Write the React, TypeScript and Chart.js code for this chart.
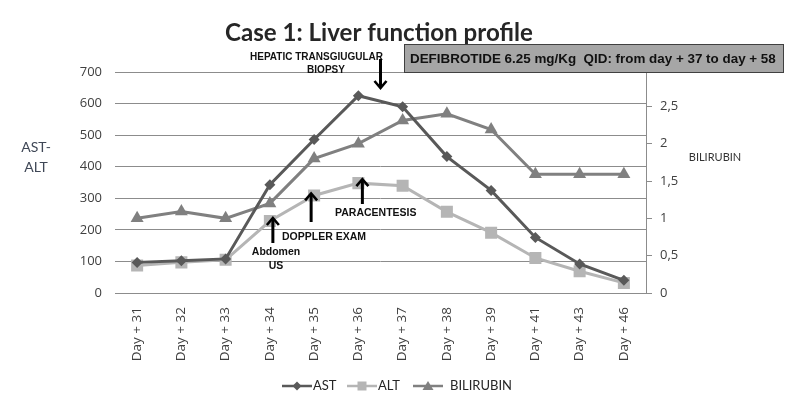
import React, { useEffect, useRef } from 'react';
import { Chart, registerables } from 'chart.js';

Chart.register(...registerables);

const categories = ['Day + 31', 'Day + 32', 'Day + 33', 'Day + 34', 'Day + 35', 'Day + 36', 'Day + 37', 'Day + 38', 'Day + 39', 'Day + 41', 'Day + 43', 'Day + 46'];
const astValues = [97, 102, 108, 343, 486, 625, 590, 432, 325, 176, 92, 40];
const altValues = [87, 97, 105, 228, 309, 348, 340, 257, 191, 111, 69, 32];
const bilirubinValues = [1.0, 1.09, 1.0, 1.2, 1.8, 2.0, 2.31, 2.4, 2.19, 1.59, 1.59, 1.59];
const leftAxisMax = 700;
const leftAxisStep = 100;
const rightAxisMax = 2.96;
const rightAxisStep = 0.5;
const seriesNames = ['AST', 'ALT', 'BILIRUBIN'];
const titleText = 'Case 1: Liver function profile';
const boxText = 'DEFIBROTIDE 6.25 mg/Kg  QID: from day + 37 to day + 58';

const AST_COLOR = '#595959';
const ALT_COLOR = '#b5b5b5';
const BILI_COLOR = '#808080';
const GRID = '#8c8c8c';
const TICK_COLOR = '#404040';

function fitFont(ctx: CanvasRenderingContext2D, text: string, weight: string, family: string, target: number) {
  ctx.font = `${weight} 20px ${family}`;
  const w = ctx.measureText(text).width;
  const size = 20 * target / w;
  ctx.font = `${weight} ${size}px ${family}`;
}

function drawArrow(ctx: CanvasRenderingContext2D, x: number, yTail: number, yTip: number) {
  const dir = yTip > yTail ? 1 : -1;
  ctx.save();
  ctx.strokeStyle = '#000';
  ctx.lineWidth = 3;
  ctx.lineCap = 'butt';
  ctx.beginPath();
  ctx.moveTo(x, yTail);
  ctx.lineTo(x, yTip - dir * 1);
  ctx.stroke();
  ctx.lineWidth = 2.6;
  ctx.lineJoin = 'miter';
  ctx.beginPath();
  ctx.moveTo(x - 6, yTip - dir * 7);
  ctx.lineTo(x, yTip);
  ctx.lineTo(x + 6, yTip - dir * 7);
  ctx.stroke();
  ctx.restore();
}

function drawMarker(ctx: CanvasRenderingContext2D, style: string, x: number, y: number, color: string) {
  ctx.save();
  ctx.fillStyle = color;
  ctx.beginPath();
  if (style === 'diamond') {
    ctx.moveTo(x, y - 4.5); ctx.lineTo(x + 4.5, y); ctx.lineTo(x, y + 4.5); ctx.lineTo(x - 4.5, y);
  } else if (style === 'square') {
    ctx.rect(x - 4.5, y - 4.5, 9, 9);
  } else {
    ctx.moveTo(x, y - 5); ctx.lineTo(x + 5.5, y + 4); ctx.lineTo(x - 5.5, y + 4);
  }
  ctx.closePath();
  ctx.fill();
  ctx.restore();
}

const annotationPlugin = {
  id: 'annotations',
  beforeDraw(chart: any) {
    const ctx = chart.ctx as CanvasRenderingContext2D;
    ctx.save();
    ctx.fillStyle = '#ffffff';
    ctx.fillRect(0, 0, chart.width, chart.height);
    ctx.restore();
  },
  afterDraw(chart: any) {
    const ctx = chart.ctx as CanvasRenderingContext2D;
    const xs = chart.scales.x;
    const ys = chart.scales.y;
    ctx.save();

    // Title
    fitFont(ctx, titleText, 'bold', 'Lato', 308);
    ctx.fillStyle = '#262626';
    ctx.textAlign = 'left';
    ctx.textBaseline = 'alphabetic';
    ctx.fillText(titleText, 225, 41);

    // Defibrotide box
    ctx.fillStyle = '#a6a6a6';
    ctx.fillRect(404, 44, 380, 29);
    ctx.strokeStyle = '#404040';
    ctx.lineWidth = 1;
    ctx.strokeRect(404.5, 44.5, 379, 28);
    ctx.fillStyle = '#111111';
    fitFont(ctx, boxText, 'bold', '"Liberation Sans"', 366);
    ctx.textBaseline = 'middle';
    ctx.fillText(boxText, 410, 59);

    // Hepatic biopsy
    ctx.font = 'bold 10px "Liberation Sans"';
    ctx.fillStyle = '#111111';
    ctx.textAlign = 'left';
    ctx.fillText('HEPATIC TRANSGIUGULAR', 250, 57);
    ctx.textAlign = 'center';
    ctx.fillText('BIOPSY', 326, 70);
    const xBiopsy = (xs.getPixelForValue(5) + xs.getPixelForValue(6)) / 2;
    drawArrow(ctx, xBiopsy, 59, 88);

    // Paracentesis
    const xPara = xs.getPixelForValue(5) + 4;
    drawArrow(ctx, xPara, 204, ys.getPixelForValue(altValues[5]) - 4);
    ctx.font = 'bold 10.5px "Liberation Sans"';
    ctx.textAlign = 'left';
    ctx.fillText('PARACENTESIS', 335, 213);

    // Doppler
    const xDop = xs.getPixelForValue(4) - 3;
    drawArrow(ctx, xDop, 222, ys.getPixelForValue(altValues[4]) - 2);
    ctx.fillText('DOPPLER EXAM', 282, 237);

    // Abdomen US
    const xUs = xs.getPixelForValue(3) + 3;
    drawArrow(ctx, xUs, 243, ys.getPixelForValue(altValues[3]) - 3);
    ctx.textAlign = 'center';
    ctx.fillText('Abdomen', 276, 252);
    ctx.fillText('US', 276, 266);

    // Axis titles
    ctx.font = '14px Lato';
    ctx.fillStyle = '#3f4756';
    ctx.textAlign = 'center';
    ctx.fillText('AST-', 36, 147);
    ctx.fillText('ALT', 36, 167);
    ctx.font = '11px Lato';
    ctx.fillStyle = '#333333';
    ctx.fillText('BILIRUBIN', 715, 157);

    // Legend
    const items = [
      { name: seriesNames[0], color: AST_COLOR, style: 'diamond', x0: 282 },
      { name: seriesNames[1], color: ALT_COLOR, style: 'square', x0: 347 },
      { name: seriesNames[2], color: BILI_COLOR, style: 'triangle', x0: 413 },
    ];
    const ly = 386;
    ctx.font = '13px Lato';
    ctx.textAlign = 'left';
    items.forEach((it, i) => {
      ctx.strokeStyle = it.color;
      ctx.lineWidth = 2.5;
      ctx.beginPath();
      ctx.moveTo(it.x0, ly);
      ctx.lineTo(it.x0 + 30, ly);
      ctx.stroke();
      drawMarker(ctx, it.style, it.x0 + 15, ly, it.color);
      ctx.fillStyle = '#262626';
      ctx.fillText(it.name, it.x0 + (i === 2 ? 37 : 31), ly);
    });

    ctx.restore();
  },
};

export default function App() {
  const canvasRef = useRef<HTMLCanvasElement | null>(null);

  useEffect(() => {
    const canvas = canvasRef.current;
    if (!canvas) return;
    const chart = new Chart(canvas, {
      type: 'line',
      data: {
        labels: categories,
        datasets: [
          {
            label: seriesNames[0],
            data: astValues,
            yAxisID: 'y',
            borderColor: AST_COLOR,
            backgroundColor: AST_COLOR,
            borderWidth: 3,
            pointStyle: 'rectRot',
            pointRadius: 5.5,
            pointBorderWidth: 0,
            tension: 0,
            order: 1,
          },
          {
            label: seriesNames[1],
            data: altValues,
            yAxisID: 'y',
            borderColor: ALT_COLOR,
            backgroundColor: ALT_COLOR,
            borderWidth: 3,
            pointStyle: 'rect',
            pointRadius: 8.5,
            pointBorderWidth: 0,
            tension: 0,
            order: 2,
          },
          {
            label: seriesNames[2],
            data: bilirubinValues,
            yAxisID: 'y1',
            borderColor: BILI_COLOR,
            backgroundColor: BILI_COLOR,
            borderWidth: 3,
            pointStyle: 'triangle',
            pointRadius: 7.5,
            pointBorderWidth: 0,
            tension: 0,
            order: 3,
          },
        ],
      },
      options: {
        responsive: false,
        animation: false,
        layout: { padding: { top: 72, left: 0, right: 0, bottom: 0 } },
        plugins: {
          legend: { display: false },
          title: { display: false },
          tooltip: { enabled: false },
        },
        scales: {
          x: {
            type: 'category',
            offset: true,
            grid: { display: false, offset: true },
            border: { display: true, color: GRID, width: 1 },
            ticks: {
              minRotation: 90,
              maxRotation: 90,
              padding: 6,
              color: TICK_COLOR,
              font: { family: 'Open Sans', size: 13.5 },
            },
            afterFit: (s: any) => { s.height = 115; },
          },
          y: {
            position: 'left',
            min: 0,
            max: leftAxisMax,
            grid: { color: GRID, lineWidth: 1, drawTicks: false },
            border: { display: false },
            ticks: {
              stepSize: leftAxisStep,
              padding: 13,
              color: TICK_COLOR,
              font: { family: 'Open Sans', size: 13 },
            },
            afterFit: (s: any) => { s.width = 115; },
          },
          y1: {
            position: 'right',
            min: 0,
            max: rightAxisMax,
            grid: { drawOnChartArea: false, color: GRID, tickLength: 6 },
            border: { display: true, color: GRID, width: 1 },
            ticks: {
              stepSize: rightAxisStep,
              padding: 8,
              color: TICK_COLOR,
              font: { family: 'Open Sans', size: 13 },
              callback: (v: any) => String(v).replace('.', ','),
            },
            afterBuildTicks: (s: any) => {
              s.ticks = s.ticks.filter((t: any) => Math.abs(t.value / rightAxisStep - Math.round(t.value / rightAxisStep)) < 1e-6);
            },
            afterFit: (s: any) => { s.width = 148; },
          },
        },
      },
      plugins: [annotationPlugin],
    } as any);
    return () => chart.destroy();
  }, []);

  return (
    <div style={{ position: 'absolute', left: 0, top: 0, width: 794, height: 408, background: '#fff' }}>
      <canvas ref={canvasRef} width={794} height={408} style={{ width: 794, height: 408, display: 'block' }} />
    </div>
  );
}
